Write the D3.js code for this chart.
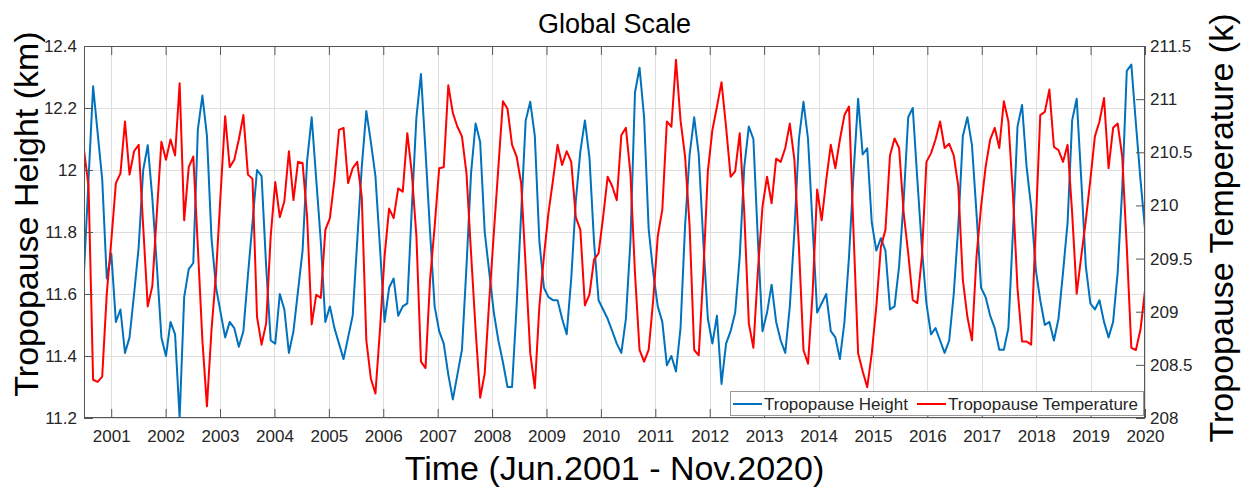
<!DOCTYPE html>
<html>
<head>
<meta charset="utf-8">
<script src="https://cdn.jsdelivr.net/npm/d3@7"></script>
<style>
  body { margin: 0; background: #fff; }
  svg { display: block; font-family: "Liberation Sans", Arial, sans-serif; }
</style>
</head>
<body>
<div id="chart"></div>
<script>
// chart texts
const chartTitle = "Global Scale";
const xTitle = "Time (Jun.2001 - Nov.2020)";
const leftTitle = "Tropopause Height (km)";
const rightTitle = "Tropopause Temperature (k)";
const seriesNames = ["Tropopause Height", "Tropopause Temperature"];

// time axis: 234 monthly samples spread from 2000.5 to 2020
const timeStart = 2000.5;
const timeEnd = 2020;
const yearTicks = [2001, 2002, 2003, 2004, 2005, 2006, 2007, 2008, 2009, 2010,
                   2011, 2012, 2013, 2014, 2015, 2016, 2017, 2018, 2019, 2020];
const heightTicks = [11.2, 11.4, 11.6, 11.8, 12, 12.2, 12.4];
const tempTicks = [208, 208.5, 209, 209.5, 210, 210.5, 211, 211.5];

// tropopause height (km)
const heightValues = [
  11.67, 11.97, 12.27, 12.12, 11.97, 11.65, 11.73, 11.51, 11.55, 11.41,
  11.46, 11.60, 11.75, 12.00, 12.08, 11.91, 11.69, 11.46, 11.40, 11.51,
  11.47, 11.20, 11.59, 11.68, 11.70, 12.13, 12.24, 12.11, 11.78, 11.62,
  11.54, 11.46, 11.51, 11.49, 11.43, 11.48, 11.66, 11.83, 12.00, 11.98,
  11.69, 11.45, 11.44, 11.60, 11.55, 11.41, 11.48, 11.61, 11.74, 12.03,
  12.17, 11.97, 11.77, 11.51, 11.56, 11.49, 11.44, 11.39, 11.46, 11.53,
  11.77, 12.01, 12.19, 12.09, 11.98, 11.75, 11.51, 11.62, 11.65, 11.53,
  11.56, 11.57, 11.88, 12.17, 12.31, 12.06, 11.80, 11.56, 11.48, 11.44,
  11.34, 11.26, 11.34, 11.42, 11.69, 11.99, 12.15, 12.09, 11.80, 11.67,
  11.54, 11.45, 11.38, 11.30, 11.30, 11.56, 11.86, 12.16, 12.22, 12.11,
  11.77, 11.62, 11.59, 11.58, 11.58, 11.52, 11.47, 11.65, 11.90, 12.06,
  12.16, 12.04, 11.77, 11.58, 11.55, 11.52, 11.48, 11.44, 11.41, 11.52,
  11.77, 12.25, 12.33, 12.17, 11.81, 11.67, 11.56, 11.51, 11.37, 11.40,
  11.35, 11.49, 11.82, 12.05, 12.17, 12.05, 11.77, 11.52, 11.44, 11.53,
  11.31, 11.44, 11.48, 11.54, 11.72, 12.01, 12.14, 12.10, 11.77, 11.48,
  11.54, 11.63, 11.51, 11.45, 11.41, 11.56, 11.80, 12.10, 12.22, 12.10,
  11.82, 11.54, 11.57, 11.60, 11.48, 11.46, 11.39, 11.51, 11.72, 11.99,
  12.23, 12.05, 12.07, 11.83, 11.74, 11.78, 11.74, 11.55, 11.56, 11.69,
  11.90, 12.17, 12.20, 11.97, 11.75, 11.57, 11.47, 11.49, 11.45, 11.41,
  11.45, 11.60, 11.82, 12.11, 12.17, 12.08, 11.86, 11.62, 11.59, 11.53,
  11.49, 11.42, 11.42, 11.49, 11.80, 12.14, 12.21, 12.01, 11.88, 11.68,
  11.58, 11.50, 11.51, 11.45, 11.52, 11.67, 11.83, 12.16, 12.23, 11.97,
  11.69, 11.57, 11.55, 11.58, 11.51, 11.46, 11.51, 11.67, 11.94, 12.32,
  12.34, 12.15, 11.97, 11.81
];

// tropopause temperature (k)
const tempValues = [
  210.52, 210.18, 208.36, 208.34, 208.39, 209.17, 209.67, 210.21, 210.30, 210.79,
  210.29, 210.51, 210.57, 209.80, 209.05, 209.24, 209.93, 210.60, 210.43, 210.62,
  210.47, 211.15, 209.86, 210.36, 210.46, 209.61, 208.73, 208.11, 208.83, 209.36,
  210.11, 210.84, 210.36, 210.43, 210.62, 210.85, 210.29, 210.25, 208.95, 208.69,
  208.89, 209.71, 210.22, 209.89, 210.04, 210.51, 210.05, 210.41, 210.40, 209.89,
  208.88, 209.16, 209.13, 209.77, 209.88, 210.24, 210.71, 210.73, 210.21, 210.35,
  210.41, 210.08, 208.73, 208.37, 208.23, 208.83, 209.52, 209.97, 209.88, 210.16,
  210.13, 210.68, 210.30, 209.71, 208.53, 208.47, 209.30, 209.80, 210.35, 210.36,
  211.13, 210.87, 210.74, 210.65, 210.30, 209.55, 208.83, 208.19, 208.42, 209.11,
  209.74, 210.36, 210.98, 210.91, 210.57, 210.46, 210.21, 209.42, 208.61, 208.28,
  209.05, 209.52, 209.93, 210.24, 210.57, 210.38, 210.51, 210.41, 209.89, 209.77,
  209.06, 209.16, 209.49, 209.55, 209.89, 210.27, 210.18, 210.05, 210.66, 210.73,
  210.30, 209.36, 208.64, 208.53, 208.64, 209.11, 209.71, 209.96, 210.79, 210.74,
  211.37, 210.80, 210.46, 209.80, 208.64, 208.59, 209.36, 210.32, 210.71, 210.93,
  211.16, 210.74, 210.27, 210.32, 210.68, 209.93, 208.89, 208.66, 209.39, 209.99,
  210.27, 210.02, 210.44, 210.41, 210.54, 210.77, 210.43, 209.61, 208.64, 208.51,
  209.17, 210.15, 209.86, 210.24, 210.57, 210.35, 210.62, 210.85, 210.93, 209.74,
  208.61, 208.44, 208.29, 208.61, 209.05, 209.61, 209.77, 210.47, 210.63, 210.54,
  209.93, 209.55, 209.11, 209.08, 209.52, 210.41, 210.49, 210.62, 210.79, 210.54,
  210.58, 210.47, 210.18, 209.30, 208.95, 208.73, 209.52, 209.99, 210.36, 210.62,
  210.73, 210.54, 210.98, 210.79, 210.10, 209.22, 208.72, 208.72, 208.69, 209.80,
  210.85, 210.88, 211.09, 210.55, 210.52, 210.41, 210.57, 209.93, 209.17, 209.52,
  209.86, 210.24, 210.65, 210.79, 211.01, 210.35, 210.73, 210.77, 210.46, 209.61,
  208.66, 208.64, 208.83, 209.20
];

// sizes
const W = 1247, H = 490;
const plot = {left: 84, right: 1145, top: 46, bottom: 418};
const blue = "#0072bd", red = "#ff0000";
const axisColor = "#555", gridColor = "#dedede", textColor = "#262626";

const svg = d3.select("#chart").append("svg")
    .attr("width", W)
    .attr("height", H);

// scales
const n = heightValues.length;
const times = heightValues.map((d, i) => timeStart + i * (timeEnd - timeStart) / (n - 1));

const x = d3.scaleLinear().domain([timeStart, timeEnd]).range([plot.left, plot.right]);
const yL = d3.scaleLinear().domain([11.2, 12.4]).range([plot.bottom, plot.top]);
const yR = d3.scaleLinear().domain([208, 211.5]).range([plot.bottom, plot.top]);

const plotW = plot.right - plot.left, plotH = plot.bottom - plot.top;

// grid
const grid = svg.append("g").attr("stroke", gridColor).attr("stroke-width", 1);
yearTicks.forEach(t => {
  grid.append("line")
    .attr("x1", Math.round(x(t)) + 0.5).attr("x2", Math.round(x(t)) + 0.5)
    .attr("y1", plot.top).attr("y2", plot.bottom);
});
heightTicks.forEach(t => {
  grid.append("line")
    .attr("x1", plot.left).attr("x2", plot.right)
    .attr("y1", Math.round(yL(t)) + 0.5).attr("y2", Math.round(yL(t)) + 0.5);
});

// lines
svg.append("clipPath").attr("id", "clip")
  .append("rect")
    .attr("x", plot.left).attr("y", plot.top)
    .attr("width", plotW).attr("height", plotH);

const lines = svg.append("g").attr("clip-path", "url(#clip)");

lines.append("path")
    .datum(heightValues)
    .attr("fill", "none")
    .attr("stroke", blue)
    .attr("stroke-width", 2)
    .attr("stroke-linejoin", "round")
    .attr("d", d3.line().x((d, i) => x(times[i])).y(d => yL(d)));

lines.append("path")
    .datum(tempValues)
    .attr("fill", "none")
    .attr("stroke", red)
    .attr("stroke-width", 2)
    .attr("stroke-linejoin", "round")
    .attr("d", d3.line().x((d, i) => x(times[i])).y(d => yR(d)));

// axes (ticks pointing inward like matlab)
const tickLen = 9;
const fmt = d => String(d);

svg.append("g")
    .attr("transform", `translate(0,${plot.bottom})`)
    .call(d3.axisBottom(x).tickValues(yearTicks).tickSize(-tickLen).tickPadding(12).tickFormat(fmt))
    .call(g => g.select(".domain").remove());

svg.append("g")
    .attr("transform", `translate(0,${plot.top})`)
    .call(d3.axisTop(x).tickValues(yearTicks).tickSize(-tickLen).tickFormat(""))
    .call(g => g.select(".domain").remove());

svg.append("g")
    .attr("transform", `translate(${plot.left},0)`)
    .call(d3.axisLeft(yL).tickValues(heightTicks).tickSize(-tickLen).tickPadding(7).tickFormat(fmt))
    .call(g => g.select(".domain").remove());

svg.append("g")
    .attr("transform", `translate(${plot.right},0)`)
    .call(d3.axisRight(yR).tickValues(tempTicks).tickSize(-tickLen).tickPadding(5).tickFormat(fmt))
    .call(g => g.select(".domain").remove());

svg.selectAll(".tick line").attr("stroke", axisColor);
svg.selectAll(".tick text")
    .attr("fill", textColor)
    .style("font-size", "17px")
    .style("font-family", "'Liberation Sans', Arial, sans-serif");

// box
svg.append("rect")
    .attr("x", plot.left + 0.5).attr("y", plot.top + 0.5)
    .attr("width", plotW - 1).attr("height", plotH - 1)
    .attr("fill", "none")
    .attr("stroke", axisColor)
    .attr("stroke-width", 1);

// titles
svg.append("text")
    .attr("x", (plot.left + plot.right) / 2)
    .attr("y", 33)
    .attr("text-anchor", "middle")
    .attr("font-size", 27)
    .attr("fill", "#000")
    .text(chartTitle);

svg.append("text")
    .attr("x", (plot.left + plot.right) / 2)
    .attr("y", 480)
    .attr("text-anchor", "middle")
    .attr("font-size", 34)
    .attr("fill", "#000")
    .text(xTitle);

svg.append("text")
    .attr("transform", `translate(38,${(plot.top + plot.bottom) / 2 - 18}) rotate(-90)`)
    .attr("text-anchor", "middle")
    .attr("font-size", 34)
    .attr("fill", "#000")
    .text(leftTitle);

svg.append("text")
    .attr("transform", `translate(1233,${(plot.top + plot.bottom) / 2 - 4}) rotate(-90)`)
    .attr("text-anchor", "middle")
    .attr("font-size", 34)
    .attr("fill", "#000")
    .text(rightTitle);

// legend
const legend = svg.append("g").attr("transform", "translate(730,391)");
legend.append("rect")
    .attr("x", 0.5).attr("y", 0.5)
    .attr("width", 413).attr("height", 24)
    .attr("fill", "#fff")
    .attr("stroke", "#999");

const legendItems = [
  {name: seriesNames[0], color: blue, x0: 3},
  {name: seriesNames[1], color: red, x0: 187}
];
legendItems.forEach(it => {
  legend.append("line")
    .attr("x1", it.x0).attr("x2", it.x0 + 29)
    .attr("y1", 13).attr("y2", 13)
    .attr("stroke", it.color)
    .attr("stroke-width", 2);
  legend.append("text")
    .attr("x", it.x0 + 31)
    .attr("y", 19)
    .attr("font-size", 17)
    .attr("fill", textColor)
    .text(it.name);
});
</script>
</body>
</html>
